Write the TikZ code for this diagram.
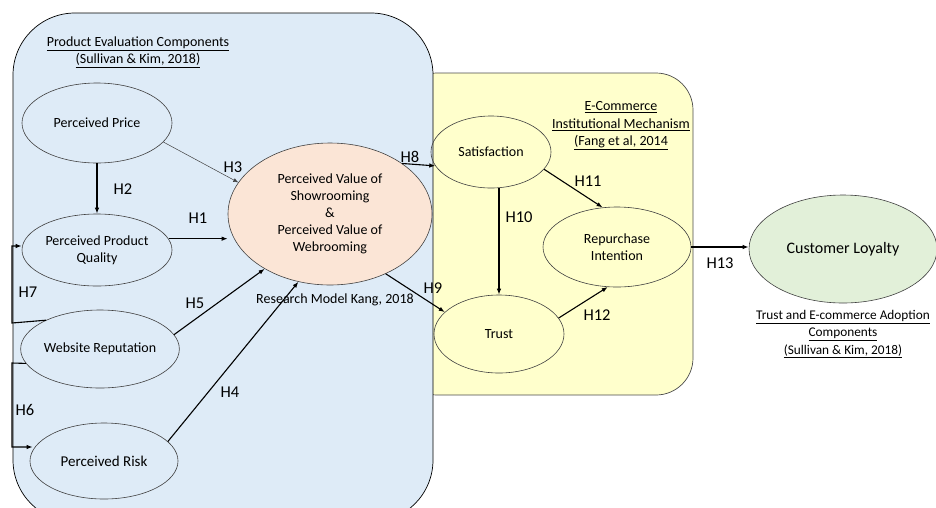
\documentclass[tikz,border=0pt]{standalone}
\usepackage{fontspec}
\setmainfont{Carlito}
\usetikzlibrary{shapes.geometric,arrows.meta}
\definecolor{boxblue}{RGB}{222,235,247}
\definecolor{boxyellow}{RGB}{255,255,204}
\definecolor{valuefill}{RGB}{251,229,214}
\definecolor{loyalfill}{RGB}{226,240,217}
\definecolor{edgegray}{RGB}{64,64,64}
\begin{document}
\begin{tikzpicture}[x=1pt,y=-1pt,
    construct/.style={ellipse,draw=edgegray,line width=0.6pt,inner sep=0pt,
      align=center,font=\fontsize{14}{17}\selectfont},
    hyp/.style={font=\fontsize{16.5}{18}\selectfont,inner sep=0pt},
    heading/.style={align=center,font=\fontsize{14}{17.5}\selectfont,inner sep=0pt},
    arr/.style={-{Latex[length=6pt,width=4.5pt]},line width=1.1pt},
    thinarr/.style={-{Latex[length=5pt,width=4pt]},line width=0.5pt,draw=edgegray}]
  \useasboundingbox (0,0) rectangle (936,507);
  % the two component panels
  \draw[fill=boxyellow,draw=gray!60!black,line width=0.7pt,rounded corners=37] (400,73) rectangle (693,395);
  \draw[fill=boxblue,line width=0.7pt,rounded corners=62] (13,13) rectangle (433,522);
  % panel headings
  \node[heading] (headprod) at (138,52) {\underline{Product Evaluation Components}\\\underline{(Sullivan \& Kim, 2018)}};
  \node[heading] (headecom) at (621,126) {\underline{E-Commerce}\\\underline{Institutional Mechanism}\\\underline{(Fang et al, 2014}};
  \node[heading,font=\fontsize{13.3}{17.5}\selectfont] (headtrust) at (843,334) {\underline{Trust and E-commerce Adoption}\\\underline{Components}\\\underline{(Sullivan \& Kim, 2018)}};
  \node[heading] (kang) at (335,300) {Research Model Kang, 2018};
  % constructs
  \node[construct,minimum width=150,minimum height=80] (price) at (97,123) {Perceived Price};
  \node[construct,minimum width=150,minimum height=72] (quality) at (97,250) {Perceived Product\\Quality};
  \node[construct,minimum width=150,minimum height=78] (website) at (100,349) {Website Reputation};
  \node[construct,minimum width=148,minimum height=76,font=\fontsize{15}{17}\selectfont] (risk) at (104,461) {Perceived Risk};
  \node[construct,fill=valuefill,minimum width=204,minimum height=142] (value) at (330,214)
    {Perceived Value of\\Showrooming\\\&\\Perceived Value of\\Webrooming};
  \node[construct,minimum width=120,minimum height=72] (satis) at (491,152) {Satisfaction};
  \node[construct,minimum width=130,minimum height=78] (trust) at (499,334) {Trust};
  \node[construct,minimum width=148,minimum height=80] (repur) at (617,247) {Repurchase\\Intention};
  \node[construct,fill=loyalfill,minimum width=188,minimum height=108,font=\fontsize{16}{18}\selectfont] (loyal) at (843,249) {Customer Loyalty};
  % hypotheses
  \draw[thinarr] (price.-16) -- (value.161);
  \draw[arr] (price.south) -- (quality.north);
  \draw[arr] (quality.9) -- (value.west |- quality.9);
  \draw[arr] (website.11) -- (value.220);
  \draw[arr] (risk.17) -- (value.245);
  \draw[arr] (value.35) -- (satis.194);
  \draw[arr] (value.-47) -- (trust.158);
  \draw[arr] (trust.north |- satis.south) -- (trust.north);
  \draw[arr] (satis.-18) -- (repur.110);
  \draw[arr] (trust.15) -- (repur.257);
  \draw[arr] (repur.east) -- (loyal.west |- repur.east);
  % left side brackets
  \coordinate (h7bot) at (12,323);
  \coordinate (h7top) at (12,246);
  \coordinate (h6top) at (12,363);
  \coordinate (h6bot) at (12,447);
  \draw[arr] (website.152) -- (h7bot) -- (h7top) -- (h7top -| quality.west);
  \draw[arr] (website.191) -- (h6top) -- (h6bot) -- ([xshift=3]h6bot -| risk.west);
  % labels
  \node[hyp] (lh1) at (198,218) {H1};
  \node[hyp] (lh2) at (123,189) {H2};
  \node[hyp] (lh3) at (233,167) {H3};
  \node[hyp] (lh4) at (230,392) {H4};
  \node[hyp] (lh5) at (195,303) {H5};
  \node[hyp] (lh6) at (25,410) {H6};
  \node[hyp] (lh7) at (28,292) {H7};
  \node[hyp] (lh8) at (410,157) {H8};
  \node[hyp] (lh9) at (433,288) {H9};
  \node[hyp] (lh10) at (519,217) {H10};
  \node[hyp] (lh11) at (588,181) {H11};
  \node[hyp] (lh12) at (597,315) {H12};
  \node[hyp] (lh13) at (720,263) {H13};
\end{tikzpicture}
\end{document}
